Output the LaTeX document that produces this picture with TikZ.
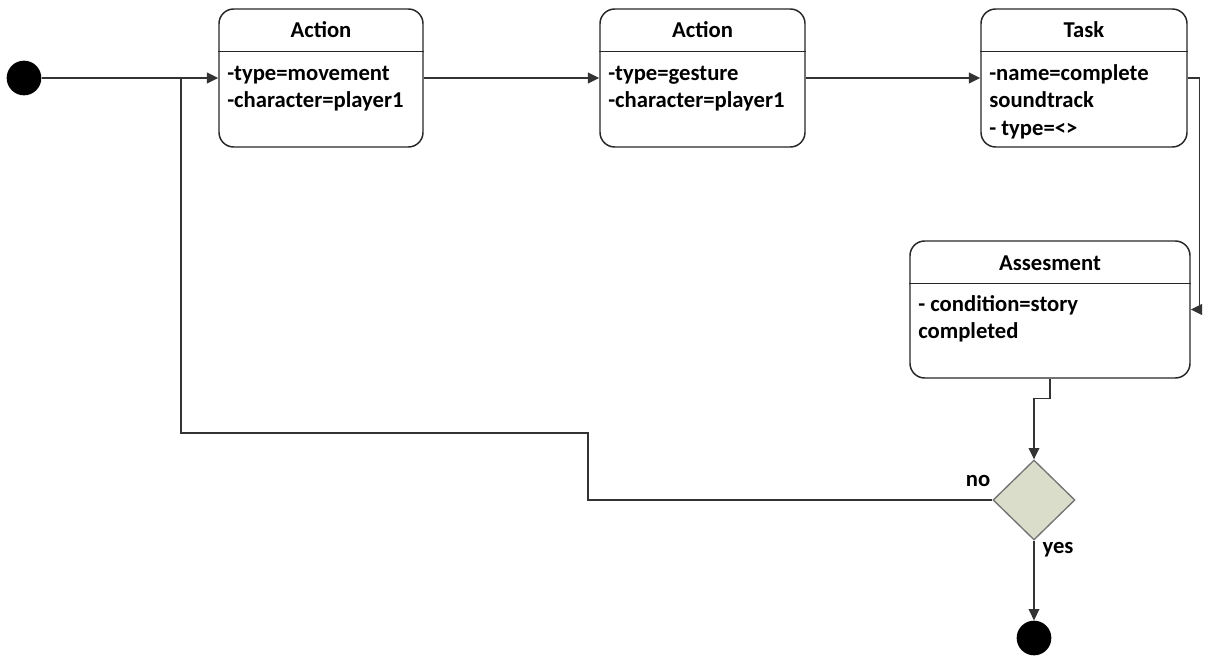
\documentclass[tikz,border=0pt]{standalone}
\usepackage{fontspec}
\setmainfont{Carlito}
\usetikzlibrary{arrows.meta,shapes.geometric,calc}
\begin{document}
\begin{tikzpicture}[x=0.75pt,y=-0.75pt,
  line/.style={draw=black!80, line width=1.1pt},
  arr/.style={line, -{Triangle[length=8.5pt,width=8pt]}},
  box/.style={draw=black!85, line width=1.1pt, rounded corners=11pt, inner sep=0pt},
  sep/.style={draw=black!85, line width=1.1pt},
  ttl/.style={font=\fontsize{17}{20}\selectfont\bfseries, anchor=base, inner sep=0pt},
  txt/.style={font=\fontsize{17}{20}\selectfont\bfseries, anchor=base west, inner sep=0pt},
  dot/.style={circle, fill=black, minimum size=26pt, inner sep=0pt},
  decision/.style={diamond, draw=black!55, fill=decfill, line width=1pt, minimum width=61.5pt, minimum height=60pt, inner sep=0pt, aspect=1}
]
\definecolor{decfill}{HTML}{DADDC9}
\useasboundingbox (0,0) rectangle (1208,656);

% initial and final nodes
\node[dot] (start) at (24,78) {};
\node[dot] (final) at (1034,638) {};

% boxes
\node[box, minimum width=153pt, minimum height=103.5pt] (a1) at (321,78) {};
\node[box, minimum width=153.75pt, minimum height=103.5pt] (a2) at (702.5,78) {};
\node[box, minimum width=154.5pt, minimum height=103.5pt] (t) at (1084,78) {};
\node[box, minimum width=210pt, minimum height=102.75pt] (as) at (1050,309.5) {};

% separators
\draw[sep] ($(a1.north west)+(0,43)$) -- ($(a1.north east)+(0,43)$);
\draw[sep] ($(a2.north west)+(0,43)$) -- ($(a2.north east)+(0,43)$);
\draw[sep] ($(t.north west)+(0,43)$) -- ($(t.north east)+(0,43)$);
\draw[sep] ($(as.north west)+(0,43)$) -- ($(as.north east)+(0,43)$);

% titles
\node[ttl] (a1t) at (321,38) {Action};
\node[ttl] (a2t) at (702.5,38) {Action};
\node[ttl] (tt) at (1084,38) {Task};
\node[ttl] (ast) at (1050,271) {Assesment};

% bodies
\node[txt] (a1l1) at (227,81) {-type=movement};
\node[txt] (a1l2) at (227,108) {-character=player1};
\node[txt] (a2l1) at (608,81) {-type=gesture};
\node[txt] (a2l2) at (608,108) {-character=player1};
\node[txt] (tl1) at (989,81) {-name=complete};
\node[txt] (tl2) at (989,108) {soundtrack};
\node[txt] (tl3) at (989,136) {- type=<>};
\node[txt] (asl1) at (918,312) {- condition=story};
\node[txt] (asl2) at (918,339) {completed};

% decision
\node[decision] (dec) at (1034,500) {};
\node[ttl] (no) at (978,486) {no};
\node[ttl] (yes) at (1058,553) {yes};

% connectors
\coordinate (j1) at (181,78);
\draw[arr] (start.east) -- (a1.west);
\draw[arr] (a1.east) -- (a2.west);
\draw[arr] (a2.east) -- (t.west);
\draw[arr] (t.east) -- ++(12,0) |- (as.east);
\draw[arr] (as.south) -- ++(0,20) -| (dec.north);
\draw[arr] (dec.south) -- (final.north);
\draw[line] (dec.west) -- (588,500) -- (588,433) -- (181,433) -- (j1);
\end{tikzpicture}
\end{document}
